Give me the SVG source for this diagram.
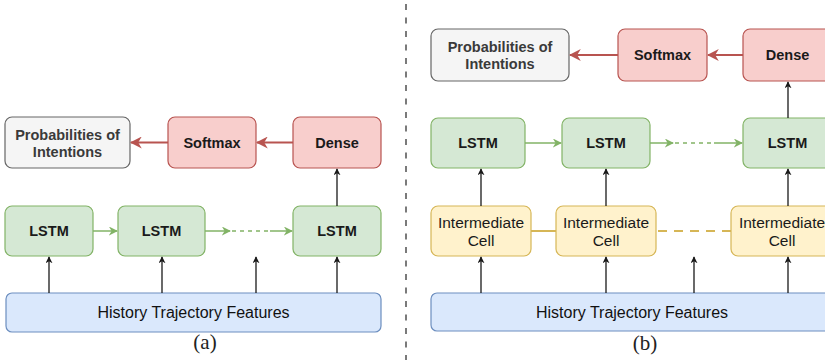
<svg xmlns="http://www.w3.org/2000/svg" width="825" height="360" viewBox="0 0 825 360">
  <style>
    .box { stroke-width: 1.2; }
    .green { fill: #d5e8d4; stroke: #82b366; }
    .red { fill: #f8cecc; stroke: #b85450; }
    .gray { fill: #f5f5f5; stroke: #666666; }
    .yellow { fill: #fff2cc; stroke: #d6b656; }
    .blue { fill: #dae8fc; stroke: #6c8ebf; }
    text { font-family: "Liberation Sans", Arial, sans-serif; text-anchor: middle; fill: #1a1a1a; }
    .b { font-size: 14.5px; font-weight: bold; }
    .g { fill: #3a3a3a; }
    .r { font-size: 15.5px; }
    .h { font-size: 16px; fill: #111; }
    .cap { font-family: "Liberation Serif", "Times New Roman", serif; font-size: 21px; fill: #222; }
    .blk { stroke: #1a1a1a; stroke-width: 1.3; fill: none; }
    .grn { stroke: #82b366; stroke-width: 1.5; fill: none; }
    .rd { stroke: #b85450; stroke-width: 2.2; fill: none; }
    .yl { stroke: #d6b656; stroke-width: 2; fill: none; }
  </style>
  <defs>
    <marker id="ab" viewBox="0 0 10 10" refX="9" refY="5" markerWidth="7" markerHeight="7" markerUnits="userSpaceOnUse" orient="auto">
      <path d="M0,0 L10,5 L0,10 L3,5 Z" fill="#1a1a1a"/>
    </marker>
    <marker id="ag" viewBox="0 0 10 10" refX="9" refY="5" markerWidth="9" markerHeight="9" markerUnits="userSpaceOnUse" orient="auto">
      <path d="M0,0 L10,5 L0,10 L3,5 Z" fill="#82b366"/>
    </marker>
    <marker id="ar" viewBox="0 0 10 10" refX="9" refY="5" markerWidth="12" markerHeight="12" markerUnits="userSpaceOnUse" orient="auto">
      <path d="M0,0 L10,5 L0,10 L3,5 Z" fill="#b85450"/>
    </marker>
  </defs>

  <rect width="825" height="360" fill="#ffffff"/>

  <!-- divider between the two panels -->
  <line x1="406" y1="4" x2="406" y2="360" stroke="#7a7a7a" stroke-width="2" stroke-dasharray="6,7.5"/>

  <!-- panel (a) nodes -->
  <g id="a-prob"><rect class="box gray" x="5" y="117" width="125" height="51" rx="7"/><text class="b g" x="67.5" y="140">Probabilities of</text><text class="b g" x="67.5" y="157">Intentions</text></g>
  <g id="a-softmax"><rect class="box red" x="168" y="117" width="88" height="51" rx="7"/><text class="b" x="212" y="147.5">Softmax</text></g>
  <g id="a-dense"><rect class="box red" x="293" y="117" width="88" height="51" rx="7"/><text class="b" x="337" y="147.5">Dense</text></g>
  <g id="a-lstm1"><rect class="box green" x="5" y="206" width="88" height="50" rx="7"/><text class="b" x="49" y="236">LSTM</text></g>
  <g id="a-lstm2"><rect class="box green" x="118" y="206" width="87" height="50" rx="7"/><text class="b" x="161.5" y="236">LSTM</text></g>
  <g id="a-lstm3"><rect class="box green" x="293" y="206" width="88" height="50" rx="7"/><text class="b" x="337" y="236">LSTM</text></g>
  <g id="a-history"><rect class="box blue" x="6" y="293" width="375" height="39" rx="6"/><text class="h" x="193.5" y="318">History Trajectory Features</text></g>
  <text class="cap" x="205" y="348.5">(a)</text>

  <!-- panel (b) nodes -->
  <g id="b-prob"><rect class="box gray" x="431" y="29" width="138" height="52" rx="7"/><text class="b g" x="500" y="52">Probabilities of</text><text class="b g" x="500" y="69">Intentions</text></g>
  <g id="b-softmax"><rect class="box red" x="618" y="29" width="89" height="52" rx="7"/><text class="b" x="662.5" y="60">Softmax</text></g>
  <g id="b-dense"><rect class="box red" x="743" y="29" width="89" height="52" rx="7"/><text class="b" x="787.5" y="60">Dense</text></g>
  <g id="b-lstm1"><rect class="box green" x="431" y="118" width="94" height="50" rx="7"/><text class="b" x="478" y="148">LSTM</text></g>
  <g id="b-lstm2"><rect class="box green" x="562" y="118" width="88" height="50" rx="7"/><text class="b" x="606" y="148">LSTM</text></g>
  <g id="b-lstm3"><rect class="box green" x="743" y="118" width="89" height="50" rx="7"/><text class="b" x="787.5" y="148">LSTM</text></g>
  <g id="b-cell1"><rect class="box yellow" x="431" y="206" width="100" height="50" rx="7"/><text class="r" x="481" y="227.5">Intermediate</text><text class="r" x="481" y="245.5">Cell</text></g>
  <g id="b-cell2"><rect class="box yellow" x="556" y="206" width="100" height="50" rx="7"/><text class="r" x="606" y="227.5">Intermediate</text><text class="r" x="606" y="245.5">Cell</text></g>
  <g id="b-cell3"><rect class="box yellow" x="731" y="206" width="102" height="50" rx="7"/><text class="r" x="782" y="227.5">Intermediate</text><text class="r" x="782" y="245.5">Cell</text></g>
  <g id="b-history"><rect class="box blue" x="431" y="293" width="402" height="38" rx="6"/><text class="h" x="632" y="317.5">History Trajectory Features</text></g>
  <text class="cap" x="645" y="349.5">(b)</text>

  <!-- connectors -->
  <g id="connectors">
    <!-- panel (a) -->
    <line class="rd" x1="168" y1="142.5" x2="131" y2="142.5" marker-end="url(#ar)"/>
    <line class="rd" x1="293" y1="142.5" x2="257" y2="142.5" marker-end="url(#ar)"/>
    <line class="blk" x1="337" y1="206" x2="337" y2="169" marker-end="url(#ab)"/>
    <line class="grn" x1="93" y1="231" x2="117" y2="231" marker-end="url(#ag)"/>
    <line class="grn" x1="205" y1="231" x2="230" y2="231" marker-end="url(#ag)"/>
    <line class="grn" x1="232" y1="231" x2="268" y2="231" stroke-dasharray="4,4"/>
    <line class="grn" x1="270" y1="231" x2="292" y2="231" marker-end="url(#ag)"/>
    <line class="blk" x1="49" y1="293" x2="49" y2="257" marker-end="url(#ab)"/>
    <line class="blk" x1="162" y1="293" x2="162" y2="257" marker-end="url(#ab)"/>
    <line class="blk" x1="256" y1="293" x2="256" y2="257" marker-end="url(#ab)"/>
    <line class="blk" x1="337" y1="293" x2="337" y2="257" marker-end="url(#ab)"/>

    <!-- panel (b) -->
    <line class="rd" x1="618" y1="55" x2="570" y2="55" marker-end="url(#ar)"/>
    <line class="rd" x1="743" y1="55" x2="708" y2="55" marker-end="url(#ar)"/>
    <line class="blk" x1="788" y1="118" x2="788" y2="82" marker-end="url(#ab)"/>
    <line class="grn" x1="525" y1="143" x2="561" y2="143" marker-end="url(#ag)"/>
    <line class="grn" x1="650" y1="143" x2="673" y2="143" marker-end="url(#ag)"/>
    <line class="grn" x1="675" y1="143" x2="712" y2="143" stroke-dasharray="4,4"/>
    <line class="grn" x1="714" y1="143" x2="742" y2="143" marker-end="url(#ag)"/>
    <line class="blk" x1="481" y1="206" x2="481" y2="169" marker-end="url(#ab)"/>
    <line class="blk" x1="606" y1="206" x2="606" y2="169" marker-end="url(#ab)"/>
    <line class="blk" x1="788" y1="206" x2="788" y2="169" marker-end="url(#ab)"/>
    <line class="yl" x1="531" y1="231" x2="556" y2="231"/>
    <line class="yl" x1="658" y1="231" x2="731" y2="231" stroke-dasharray="9,7"/>
    <line class="blk" x1="481" y1="293" x2="481" y2="257" marker-end="url(#ab)"/>
    <line class="blk" x1="606" y1="293" x2="606" y2="257" marker-end="url(#ab)"/>
    <line class="blk" x1="694" y1="293" x2="694" y2="257" marker-end="url(#ab)"/>
    <line class="blk" x1="788" y1="293" x2="788" y2="257" marker-end="url(#ab)"/>
  </g>
</svg>
